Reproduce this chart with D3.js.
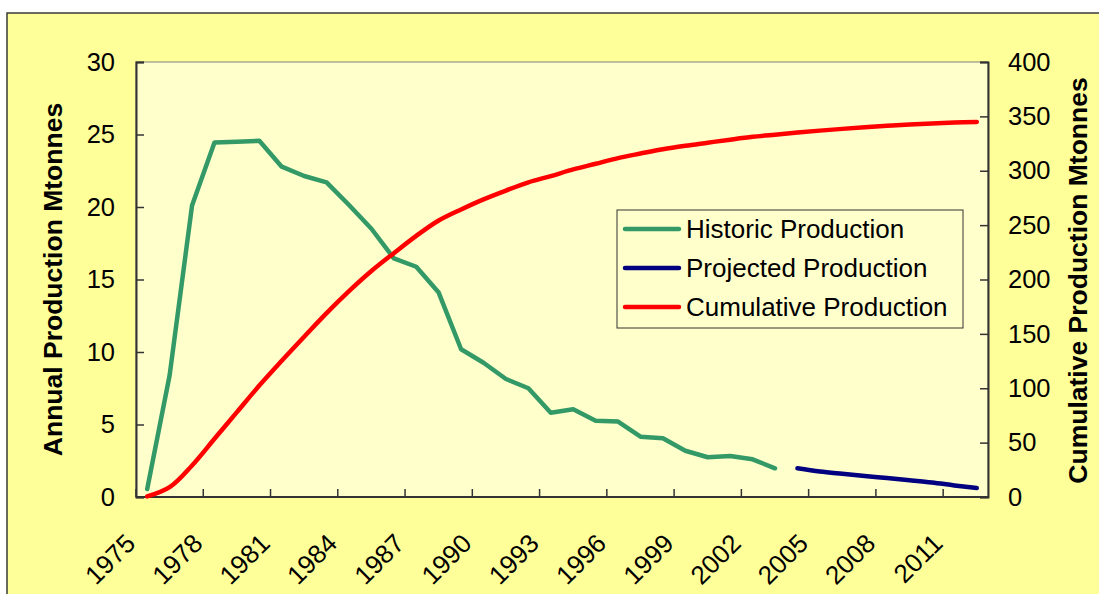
<!DOCTYPE html>
<html>
<head>
<meta charset="utf-8">
<script src="https://cdn.jsdelivr.net/npm/d3@7"></script>
<style>
  html, body { margin: 0; padding: 0; background: #ffffff; }
  svg { display: block; font-family: "Liberation Sans", Arial, sans-serif; }
</style>
</head>
<body>
<svg id="chart" width="1099" height="594"></svg>
<script>
const years = ["1975","1976","1977","1978","1979","1980","1981","1982","1983","1984",
  "1985","1986","1987","1988","1989","1990","1991","1992","1993","1994",
  "1995","1996","1997","1998","1999","2000","2001","2002","2003","2004",
  "2005","2006","2007","2008","2009","2010","2011","2012"];

const historicYears = ["1975","1976","1977","1978","1979","1980","1981","1982","1983","1984",
  "1985","1986","1987","1988","1989","1990","1991","1992","1993","1994",
  "1995","1996","1997","1998","1999","2000","2001","2002","2003"];
const historic = [0.55, 8.4, 20.1, 24.45, 24.5, 24.57, 22.78, 22.14, 21.7, 20.14,
  18.5, 16.46, 15.88, 14.1, 10.19, 9.26, 8.14, 7.5, 5.81, 6.05,
  5.26, 5.2, 4.16, 4.05, 3.19, 2.74, 2.83, 2.6, 1.98];

const projectedYears = ["2004","2005","2006","2007","2008","2009","2010","2011","2012"];
const projected = [1.98, 1.76, 1.6, 1.45, 1.31, 1.16, 1.0, 0.8, 0.62];

const cumulative = [0.5, 9, 29, 53.5, 78, 102.5, 125.3, 147.4, 169.1, 189.3,
  207.8, 224.2, 240.1, 254.2, 264.4, 273.7, 281.8, 289.3, 295.1, 301.2,
  306.4, 311.6, 315.8, 319.8, 323.0, 325.8, 328.6, 331.2, 333.2, 335.1,
  336.9, 338.5, 340.0, 341.3, 342.5, 343.5, 344.3, 344.9];

const leftTicks = [0, 5, 10, 15, 20, 25, 30];
const rightTicks = [0, 50, 100, 150, 200, 250, 300, 350, 400];
const xLabelYears = ["1975","1978","1981","1984","1987","1990","1993","1996","1999","2002","2005","2008","2011"];

const seriesNames = ["Historic Production", "Projected Production", "Cumulative Production"];
const seriesColors = ["#339966", "#000080", "#FF0000"];

const svg = d3.select("#chart");
const plot = { left: 136, top: 62, right: 988, bottom: 497 };

// outer chart area
svg.append("rect").attr("x", 7).attr("y", 13).attr("width", 1110).attr("height", 600)
  .attr("fill", "#FFFF99").attr("stroke", "#3a3a3a").attr("stroke-width", 1.5);

// plot area
svg.append("rect").attr("x", plot.left).attr("y", plot.top)
  .attr("width", plot.right - plot.left).attr("height", plot.bottom - plot.top)
  .attr("fill", "#FFFFCC").attr("stroke", "#808080").attr("stroke-width", 1);

const x = d3.scaleBand().domain(years).range([plot.left, plot.right]).padding(0);
const xc = d => x(d) + x.bandwidth() / 2;
const yL = d3.scaleLinear().domain([0, 30]).range([plot.bottom, plot.top]);
const yR = d3.scaleLinear().domain([0, 400]).range([plot.bottom, plot.top]);

const axisColor = "#333333";
const fs = 25.5;

// left axis
const gL = svg.append("g").attr("transform", `translate(${plot.left},0)`)
  .call(d3.axisLeft(yL).tickValues(leftTicks).tickSize(-8).tickPadding(21).tickFormat(d3.format("d")));
// right axis
const gR = svg.append("g").attr("transform", `translate(${plot.right},0)`)
  .call(d3.axisRight(yR).tickValues(rightTicks).tickSize(-8).tickPadding(20).tickFormat(d3.format("d")));
[gL, gR].forEach(g => {
  g.select(".domain").attr("stroke", axisColor).attr("stroke-width", 2);
  g.selectAll(".tick line").attr("stroke", axisColor).attr("stroke-width", 1.5);
  g.selectAll(".tick text").attr("fill", "#000").style("font-size", fs + "px")
    .style("font-family", "'Liberation Sans', Arial, sans-serif");
});

// bottom axis
const gB = svg.append("g").attr("transform", `translate(0,${plot.bottom})`);
gB.append("line").attr("x1", plot.left).attr("x2", plot.right).attr("y1", 0).attr("y2", 0)
  .attr("stroke", axisColor).attr("stroke-width", 2);
gB.selectAll("line.tk").data(xLabelYears).enter().append("line").attr("class", "tk")
  .attr("x1", d => x(d)).attr("x2", d => x(d)).attr("y1", 0).attr("y2", -8)
  .attr("stroke", axisColor).attr("stroke-width", 1.5);
gB.selectAll("text.lbl").data(xLabelYears).enter().append("text").attr("class", "lbl")
  .attr("transform", d => `translate(${x(d) + 1},${48}) rotate(-45)`)
  .attr("text-anchor", "end").style("font-size", "26px").attr("fill", "#000")
  .text(d => d);

// lines
const lineL = d3.line().x(d => xc(d[0])).y(d => yL(d[1]));
const lineLs = d3.line().x(d => xc(d[0])).y(d => yL(d[1])).curve(d3.curveCatmullRom.alpha(0.5));
const lineR = d3.line().x(d => xc(d[0])).y(d => yR(d[1])).curve(d3.curveCatmullRom.alpha(0.5));

svg.append("path").datum(historicYears.map((y, i) => [y, historic[i]]))
  .attr("d", lineL).attr("fill", "none").attr("stroke", seriesColors[0])
  .attr("stroke-width", 4.5).attr("stroke-linejoin", "round").attr("stroke-linecap", "round");
svg.append("path").datum(projectedYears.map((y, i) => [y, projected[i]]))
  .attr("d", lineLs).attr("fill", "none").attr("stroke", seriesColors[1])
  .attr("stroke-width", 4.5).attr("stroke-linejoin", "round").attr("stroke-linecap", "round");
svg.append("path").datum(years.map((y, i) => [y, cumulative[i]]))
  .attr("d", lineR).attr("fill", "none").attr("stroke", seriesColors[2])
  .attr("stroke-width", 4.5).attr("stroke-linejoin", "round").attr("stroke-linecap", "round");

// axis titles
svg.append("text").attr("transform", `translate(62,${(plot.top + plot.bottom) / 2}) rotate(-90)`)
  .attr("text-anchor", "middle").style("font-size", "26.5px").style("font-weight", "bold")
  .text("Annual Production Mtonnes");
svg.append("text").attr("transform", `translate(1087,${(plot.top + plot.bottom) / 2 + 1}) rotate(-90)`)
  .attr("text-anchor", "middle").style("font-size", "26.5px").style("font-weight", "bold")
  .text("Cumulative Production Mtonnes");

// legend
const lg = svg.append("g");
lg.append("rect").attr("x", 617).attr("y", 210).attr("width", 346).attr("height", 118)
  .attr("fill", "#FFFFCC").attr("stroke", "#333").attr("stroke-width", 1);
const rowY = [229, 268, 307];
seriesNames.forEach((n, i) => {
  lg.append("line").attr("x1", 625).attr("x2", 679).attr("y1", rowY[i]).attr("y2", rowY[i])
    .attr("stroke", seriesColors[i]).attr("stroke-width", 4.5).attr("stroke-linecap", "round");
  lg.append("text").attr("x", 686).attr("y", rowY[i]).attr("dy", "0.36em")
    .style("font-size", "26px").text(n);
});
</script>
</body>
</html>
